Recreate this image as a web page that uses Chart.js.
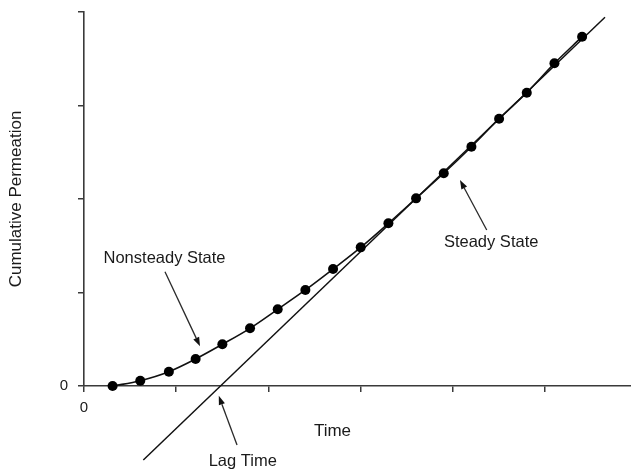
<!DOCTYPE html>
<html>
<head>
<meta charset="utf-8">
<title>Cumulative Permeation vs Time</title>
<script src="https://cdn.jsdelivr.net/npm/chart.js@4/dist/chart.umd.min.js"></script>
<style>
  html, body { margin: 0; padding: 0; background: #ffffff; }
  canvas { display: block; }
</style>
</head>
<body>
<canvas id="chart" width="631" height="472"></canvas>
<script>
// Sampled permeation measurements (time in tick units)
const timeValues = [0.31, 0.61, 0.92, 1.21, 1.5, 1.8, 2.1, 2.4, 2.7, 3.0, 3.3, 3.6, 3.9, 4.2, 4.5, 4.8, 5.1, 5.4];
const permeationValues = [0.0, 0.057, 0.153, 0.289, 0.446, 0.617, 0.820, 1.027, 1.251, 1.483, 1.740, 2.007, 2.275, 2.559, 2.859, 3.137, 3.451, 3.736];

// Steady-state asymptote, extrapolated back past the time axis
const steadyTime = [0.643, 5.648];
const steadyValue = [-0.791, 3.943];

// Axis ranges and the only labelled tick on each axis
const xRange = [0, 5.93];
const yRange = [0, 4];
const xTickLabels = { 0: '0' };
const yTickLabels = { 0: '0' };

// Callout labels (data coordinates): [text, x, y]
const calloutTexts = [
  ['Nonsteady State', 0.873, 1.369],
  ['Steady State', 4.414, 1.540],
  ['Lag Time', 1.721, -0.802]
];
// Callout arrows: [tailX, tailY, headX, headY]
const calloutArrows = [
  [0.878, 1.222, 1.258, 0.425],
  [4.366, 1.668, 4.076, 2.203],
  [1.659, -0.632, 1.461, -0.105]
];

const FONT = '"Liberation Sans", Arial, Helvetica, sans-serif';
const INK = '#1a1a1a';
const AXIS = '#3a3a3a';

function drawArrow(ctx, x1, y1, x2, y2) {
  const ang = Math.atan2(y2 - y1, x2 - x1);
  const len = 9, half = 3.2;
  const bx = x2 - len * Math.cos(ang), by = y2 - len * Math.sin(ang);
  ctx.beginPath();
  ctx.moveTo(x1, y1);
  ctx.lineTo(bx, by);
  ctx.stroke();
  ctx.beginPath();
  ctx.moveTo(x2, y2);
  ctx.lineTo(bx + half * Math.sin(ang), by - half * Math.cos(ang));
  ctx.lineTo(bx - half * Math.sin(ang), by + half * Math.cos(ang));
  ctx.closePath();
  ctx.fill();
}

const calloutPlugin = {
  id: 'callouts',
  afterDatasetsDraw(chart) {
    const { ctx, scales: { x, y } } = chart;
    ctx.save();
    ctx.strokeStyle = '#2a2a2a';
    ctx.fillStyle = '#111111';
    ctx.lineWidth = 1.3;
    calloutArrows.forEach(([tx, ty, hx, hy]) => {
      drawArrow(ctx, x.getPixelForValue(tx), y.getPixelForValue(ty),
                x.getPixelForValue(hx), y.getPixelForValue(hy));
    });
    ctx.fillStyle = INK;
    ctx.textAlign = 'center';
    ctx.textBaseline = 'middle';
    ctx.font = '16.5px ' + FONT;
    calloutTexts.forEach(([t, tx, ty]) => {
      ctx.fillText(t, x.getPixelForValue(tx), y.getPixelForValue(ty));
    });
    // horizontal axis title
    ctx.font = '17px ' + FONT;
    ctx.fillText('Time', x.getPixelForValue(2.694), y.bottom + 45);
    ctx.restore();
  }
};

function clearScalePadding(scale) {
  scale.paddingTop = 0;
  scale.paddingBottom = 0;
  scale.paddingLeft = 0;
  scale.paddingRight = 0;
}

new Chart(document.getElementById('chart'), {
  type: 'scatter',
  data: {
    datasets: [
      {
        label: 'Cumulative permeation',
        data: timeValues.map((t, i) => ({ x: t, y: permeationValues[i] })),
        showLine: true,
        cubicInterpolationMode: 'monotone',
        borderColor: '#111111',
        borderWidth: 1.6,
        pointRadius: 5,
        pointBackgroundColor: '#000000',
        pointBorderColor: '#000000',
        pointBorderWidth: 0,
        clip: false
      },
      {
        label: 'Steady state',
        data: steadyTime.map((t, i) => ({ x: t, y: steadyValue[i] })),
        showLine: true,
        borderColor: '#111111',
        borderWidth: 1.5,
        pointRadius: 0,
        clip: false
      }
    ]
  },
  options: {
    responsive: false,
    devicePixelRatio: 1,
    animation: false,
    events: [],
    layout: { autoPadding: false, padding: { top: 12, right: 0, bottom: 0, left: 0 } },
    plugins: {
      legend: { display: false },
      tooltip: { enabled: false },
      title: { display: false }
    },
    scales: {
      x: {
        type: 'linear',
        min: xRange[0],
        max: xRange[1],
        afterFit(scale) { scale.height = 86; clearScalePadding(scale); },
        ticks: {
          stepSize: 1,
          includeBounds: false,
          autoSkip: false,
          maxRotation: 0,
          padding: 7,
          color: INK,
          font: { family: FONT, size: 15 },
          callback: (v) => (xTickLabels[v] !== undefined ? xTickLabels[v] : '')
        },
        grid: { drawOnChartArea: false, drawTicks: true, tickLength: 6, color: AXIS, lineWidth: 1.5 },
        border: { display: true, color: AXIS, width: 1.6 }
      },
      y: {
        type: 'linear',
        min: yRange[0],
        max: yRange[1],
        afterFit(scale) { scale.width = 84; clearScalePadding(scale); },
        ticks: {
          stepSize: 1,
          autoSkip: false,
          padding: 10,
          color: INK,
          font: { family: FONT, size: 15 },
          callback: (v) => (yTickLabels[v] !== undefined ? yTickLabels[v] : '')
        },
        grid: { drawOnChartArea: false, drawTicks: true, tickLength: 6, color: AXIS, lineWidth: 1.5 },
        border: { display: true, color: AXIS, width: 1.6 },
        title: {
          display: true,
          text: 'Cumulative Permeation',
          color: INK,
          font: { family: FONT, size: 17 },
          padding: { top: 6, bottom: 0 }
        }
      }
    }
  },
  plugins: [calloutPlugin]
});
</script>
</body>
</html>
